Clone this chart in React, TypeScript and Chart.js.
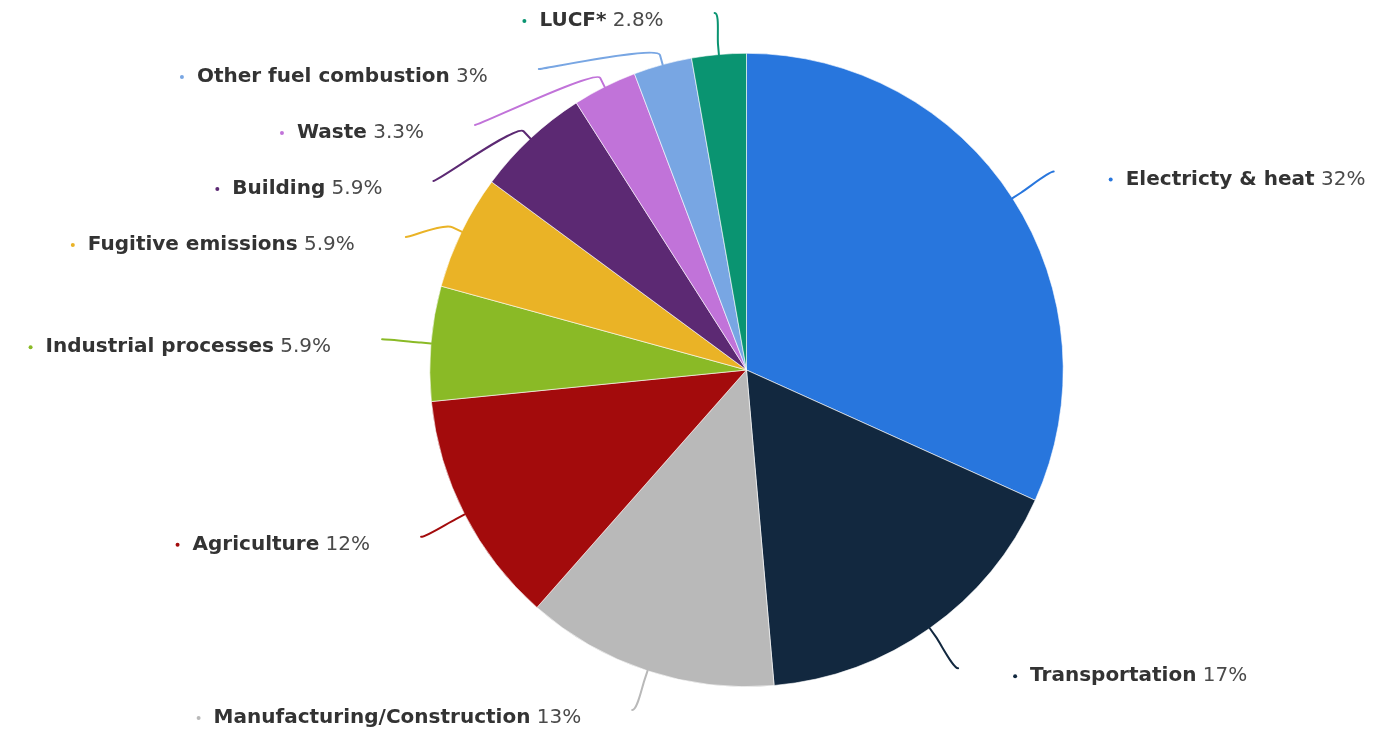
import React, { useEffect, useRef } from "react";
import { Chart, registerables } from "chart.js";

Chart.register(...registerables);

const CATEGORIES = [
  "Electricty & heat",
  "Transportation",
  "Manufacturing/Construction",
  "Agriculture",
  "Industrial processes",
  "Fugitive emissions",
  "Building",
  "Waste",
  "Other fuel combustion",
  "LUCF*",
];

const SHARES = [32, 17, 13, 12, 5.9, 5.9, 5.9, 3.3, 3, 2.8];

const COLORS = [
  "#2876DD",
  "#12283F",
  "#B9B9B9",
  "#A30B0C",
  "#8ABA26",
  "#EAB326",
  "#5C2973",
  "#C173D9",
  "#78A6E3",
  "#0A9471",
];

const W = 1379;
const H = 734;
const LABEL_DISTANCE = 49;
const BREAK_OFFSET = 10;
const LABEL_TOP = 13;
const LABEL_BOTTOM = 710;
const LABEL_SPACING = 56;
const FONT_SIZE = 20;
const FONT_FAMILY = '"DejaVu Sans", Verdana, sans-serif';

const labelPlugin = {
  id: "pieLabels",
  afterDatasetsDraw(chart: any) {
    const ctx: CanvasRenderingContext2D = chart.ctx;
    const meta = chart.getDatasetMeta(0);
    const items = meta.data.map((arc: any, i: number) => {
      const p = arc.getProps(["x", "y", "startAngle", "endAngle", "outerRadius"], true);
      const mid = (p.startAngle + p.endAngle) / 2;
      const cos = Math.cos(mid);
      const sin = Math.sin(mid);
      const R = p.outerRadius + LABEL_DISTANCE;
      return {
        i,
        cx: p.x,
        cy: p.y,
        r: p.outerRadius,
        cos,
        sin,
        R,
        left: cos < 0,
        nx: p.x + cos * R,
        ny: p.y + sin * R,
        lx: 0,
        ly: 0,
      };
    });

    [true, false].forEach((side) => {
      const group = items.filter((it: any) => it.left === side).sort((a: any, b: any) => a.ny - b.ny);
      const ys = group.map((it: any) => Math.min(LABEL_BOTTOM, Math.max(LABEL_TOP, it.ny)));
      const base = ys.slice();
      for (let k = 1; k < ys.length; k++) ys[k] = Math.max(ys[k], ys[k - 1] + LABEL_SPACING);
      if (ys.length) ys[ys.length - 1] = Math.min(ys[ys.length - 1], LABEL_BOTTOM);
      for (let k = ys.length - 2; k >= 0; k--) ys[k] = Math.min(ys[k], ys[k + 1] - LABEL_SPACING);
      group.forEach((it: any, k: number) => {
        it.ly = ys[k];
        if (Math.abs(ys[k] - base[k]) > 0.5) {
          const s = Math.max(-1, Math.min(1, (ys[k] - it.cy) / it.R));
          const a = Math.asin(s);
          it.lx = it.cx + (side ? -1 : 1) * Math.cos(a) * it.R;
        } else {
          it.lx = it.nx;
        }
      });
    });

    ctx.save();
    items.forEach((it: any) => {
      const color = COLORS[it.i];
      const tx = it.cx + it.cos * it.r;
      const ty = it.cy + it.sin * it.r;
      const bx = it.cx + it.cos * (it.r + BREAK_OFFSET);
      const by = it.cy + it.sin * (it.r + BREAK_OFFSET);
      ctx.beginPath();
      ctx.moveTo(it.lx, it.ly);
      ctx.bezierCurveTo(
        it.lx + (it.left ? 5 : -5),
        it.ly,
        2 * bx - tx,
        2 * by - ty,
        bx,
        by
      );
      ctx.lineTo(tx, ty);
      ctx.strokeStyle = color;
      ctx.lineWidth = 2;
      ctx.lineCap = "round";
      ctx.lineJoin = "round";
      ctx.stroke();

      const name = CATEGORIES[it.i];
      const pct = " " + SHARES[it.i] + "%";
      const boldFont = `bold ${FONT_SIZE}px ${FONT_FAMILY}`;
      const normFont = `${FONT_SIZE}px ${FONT_FAMILY}`;
      ctx.font = boldFont;
      const wName = ctx.measureText(name).width;
      ctx.font = normFont;
      const wPct = ctx.measureText(pct).width;
      const textY = it.ly + 8;
      let startX: number;
      let dotX: number;
      if (it.left) {
        const endX = it.lx - 51;
        startX = endX - wName - wPct;
        dotX = startX - 15;
      } else {
        dotX = it.lx + 57;
        startX = dotX + 15;
      }
      ctx.beginPath();
      ctx.arc(dotX, textY, 2, 0, Math.PI * 2);
      ctx.fillStyle = color;
      ctx.fill();

      ctx.textBaseline = "middle";
      ctx.textAlign = "left";
      ctx.font = boldFont;
      ctx.fillStyle = "#333333";
      ctx.fillText(name, startX, textY);
      ctx.font = normFont;
      ctx.fillStyle = "#4a4a4a";
      ctx.fillText(pct, startX + wName, textY);
    });
    ctx.restore();
  },
};

export default function App() {
  const canvasRef = useRef<HTMLCanvasElement | null>(null);

  useEffect(() => {
    if (!canvasRef.current) return;
    const chart = new Chart(canvasRef.current, {
      type: "pie",
      data: {
        labels: CATEGORIES,
        datasets: [
          {
            data: SHARES,
            backgroundColor: COLORS,
            borderColor: "#ffffff",
            borderWidth: 0.6,
          },
        ],
      },
      options: {
        responsive: false,
        animation: false,
        layout: {
          padding: { top: 53, bottom: 47, left: 429.5, right: 315.5 },
        },
        plugins: {
          legend: { display: false },
          tooltip: { enabled: false },
        },
      },
      plugins: [labelPlugin],
    });
    return () => chart.destroy();
  }, []);

  return (
    <div style={{ position: "fixed", left: 0, top: 0, width: W, height: H, background: "#ffffff" }}>
      <canvas ref={canvasRef} width={W} height={H} style={{ width: W, height: H, display: "block" }} />
    </div>
  );
}
